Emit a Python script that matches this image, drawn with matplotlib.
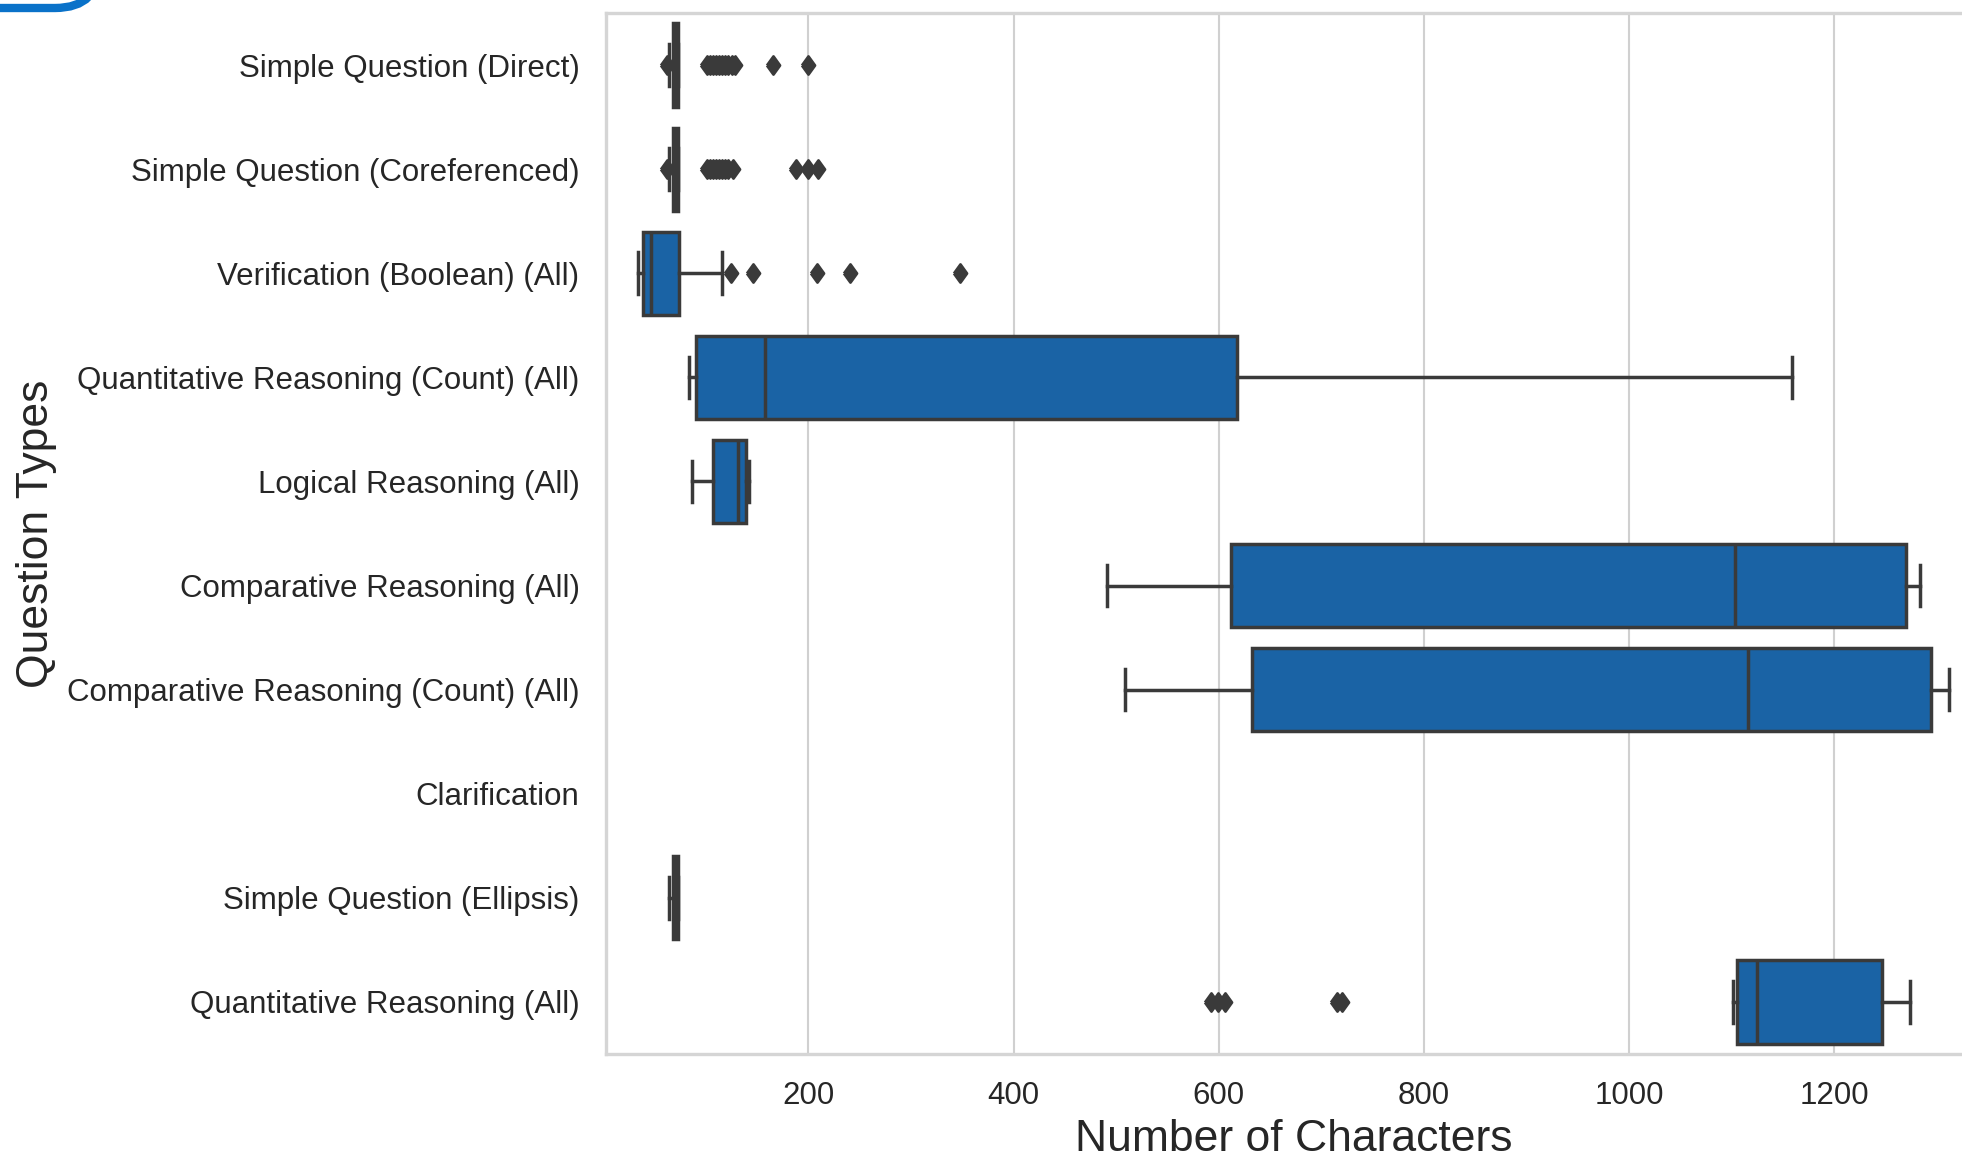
import matplotlib
matplotlib.use("Agg")
import matplotlib.pyplot as plt
import matplotlib.patches as mpatches
import matplotlib.transforms as mtransforms

plt.rcParams['font.family'] = ['Liberation Sans', 'DejaVu Sans']

# ---------------- data (box statistics) ----------------
categories = [
    "Simple Question (Direct)",
    "Simple Question (Coreferenced)",
    "Verification (Boolean) (All)",
    "Quantitative Reasoning (Count) (All)",
    "Logical Reasoning (All)",
    "Comparative Reasoning (All)",
    "Comparative Reasoning (Count) (All)",
    "Clarification",
    "Simple Question (Ellipsis)",
    "Quantitative Reasoning (All)",
]
# None -> no data for that category
whisker_low = [64, 64, 34, 84, 86, 491, 509, None, 64, 1101]
q1 =          [68, 68, 39, 90, 107, 612, 632, None, 68, 1105]
median =      [70, 70, 46, 158, 131, 1103, 1116, None, 70, 1125]
q3 =          [73, 73, 74, 618, 139, 1270, 1294, None, 73, 1247]
whisker_high = [73, 73, 116, 1159, 142, 1284, 1312, None, 73, 1274]
fliers = [
    [62, 101, 104, 107, 110, 113, 116, 119, 122, 125, 128, 165, 200],
    [62, 101, 104, 107, 110, 113, 116, 119, 122, 126, 188, 200, 209],
    [124, 146, 208, 240, 348],
    [],
    [],
    [],
    [],
    None,
    [],
    [592, 599, 606, 715, 720],
]
x_ticks = [200, 400, 600, 800, 1000, 1200]

# ---------------- styling ----------------
box_color = "#1A63A5"
line_gray = "#3a3a3a"
DPI = 100
fig = plt.figure(figsize=(1962 / DPI, 1159 / DPI), dpi=DPI)
ax = fig.add_axes([606 / 1962, 1 - 1054 / 1159, (1982 - 606) / 1962, (1054 - 13) / 1159])

stats, positions = [], []
for i, name in enumerate(categories):
    if median[i] is None:
        continue
    stats.append(dict(label=name, whislo=whisker_low[i], q1=q1[i], med=median[i],
                      q3=q3[i], whishi=whisker_high[i], fliers=fliers[i]))
    positions.append(i)

diamond = [(-0.72, 0), (0, 1), (0.72, 0), (0, -1), (-0.72, 0)]

lw = 2.5
ax.bxp(stats, positions=positions, widths=0.8, orientation='horizontal',
       patch_artist=True, manage_ticks=False,
       boxprops=dict(facecolor=box_color, edgecolor=line_gray, linewidth=lw),
       medianprops=dict(color=line_gray, linewidth=lw),
       whiskerprops=dict(color=line_gray, linewidth=lw),
       capprops=dict(color=line_gray, linewidth=lw),
       flierprops=dict(marker=diamond, markerfacecolor=line_gray, markeredgecolor=line_gray,
                       markersize=13, markeredgewidth=2, linestyle='none'),
       zorder=2)

ax.set_yticks(range(len(categories)))
ax.set_yticklabels(categories)
ax.set_ylim(len(categories) - 0.5, -0.5)
ax.set_xlim(2.6, 1344)
ax.set_xticks(x_ticks)
ax.set_xticklabels([str(v) for v in x_ticks])

ax.set_axisbelow(True)
ax.grid(axis='x', color='#d0d0d0', linewidth=1.5)
ax.grid(axis='y', visible=False)
for s in ax.spines.values():
    s.set_color('#d5d5d5')
    s.set_linewidth(2.4)

ax.tick_params(axis='y', length=0, pad=19, labelsize=22.5, labelcolor='#262626')
ax.tick_params(axis='x', length=0, pad=19.5, labelsize=22.5, labelcolor='#262626')

ax.set_xlabel("Number of Characters", fontsize=32, color='#262626')
ax.set_ylabel("Question Types", fontsize=32, color='#262626')
ax.xaxis.set_label_coords(0.5, -0.062)
ax.yaxis.set_label_coords(-0.399, 0.5)

# decorative blue rounded corner seen at the top-left of the image
corner = mpatches.FancyBboxPatch((-300, 1159 - 8), 300 + 100, 300,
                                 boxstyle="round,pad=0,rounding_size=45",
                                 fill=False, edgecolor="#0a72c9", linewidth=6,
                                 transform=mtransforms.IdentityTransform())
fig.add_artist(corner)

fig.savefig("out.png", dpi=DPI)
